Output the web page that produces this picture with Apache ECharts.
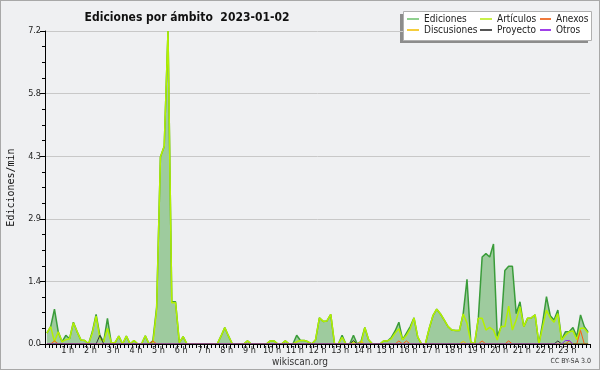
<!DOCTYPE html>
<html><head><meta charset="utf-8">
<script src="https://cdn.jsdelivr.net/npm/echarts@6/dist/echarts.min.js"></script>
<style>
html,body{margin:0;padding:0;background:#eff0f2;}
#c{width:600px;height:370px;box-sizing:border-box;border:1px solid #a8a8a8;background:#eff0f2;}
</style></head>
<body><div id="c"></div>
<script>
const title = 'Ediciones por ámbito  2023-01-02';
const seriesNames = ['Ediciones','Artículos','Anexos','Discusiones','Proyecto','Otros'];
const hourLabels = ['1 h','2 h','3 h','4 h','5 h','6 h','7 h','8 h','9 h','10 h','11 h','12 h','13 h','14 h','15 h','16 h','17 h','18 h','19 h','20 h','21 h','22 h','23 h'];
const yTicks = [0, 1.44, 2.88, 4.32, 5.76, 7.2];
// one value per 10-minute slot (144 slots), edits per minute
const ediciones = [
0.25,0.4,0.8,0.28,0.05,0.2,0.12,0.5,0.28,0.09,0.08,0,
0.28,0.68,0.2,0.05,0.59,0.03,0.03,0.18,0,0.18,0,0.08,
0,0,0.19,0,0.07,0.85,4.3,4.55,7.2,0.97,0.97,0.03,
0.17,0,0,0,0,0,0,0,0,0,0.18,0.38,
0.18,0,0,0,0,0.07,0,0,0,0,0,0.07,
0.07,0,0,0.07,0,0,0.2,0.08,0.08,0.05,0,0.1,
0.6,0.52,0.53,0.68,0,0,0.2,0,0,0.2,0,0.06,
0.38,0.1,0,0,0,0.07,0.07,0.15,0.3,0.5,0.1,0.25,
0.4,0.6,0.15,0,0,0.35,0.65,0.8,0.69,0.55,0.4,0.32,
0.31,0.31,0.7,1.49,0.05,0,0.6,2.0,2.08,2.0,2.3,0.18,
0.4,1.69,1.79,1.79,0.7,0.97,0.4,0.59,0.6,0.67,0,0.5,
1.09,0.65,0.55,0.78,0.1,0.28,0.28,0.38,0.17,0.67,0.4,0.28
];
const articulos = [
0.25,0.4,0.05,0.28,0.05,0.1,0.12,0.49,0.28,0.09,0.08,0,
0.25,0.64,0.13,0.05,0.36,0.03,0.03,0.18,0,0.18,0,0.08,
0,0,0.19,0,0,0.8,4.3,4.55,7.2,0.95,0.95,0.03,
0.17,0,0,0,0,0,0,0,0,0,0.18,0.38,
0.18,0,0,0,0,0.07,0,0,0,0,0,0.07,
0.07,0,0,0.07,0,0,0.05,0.08,0.08,0.05,0,0.1,
0.6,0.52,0.53,0.68,0,0,0.15,0,0,0.05,0,0,
0.38,0.1,0,0,0,0.07,0.07,0.12,0.25,0.35,0.1,0.2,
0.35,0.6,0.15,0,0,0.35,0.65,0.8,0.69,0.55,0.4,0.32,
0.31,0.31,0.69,0.48,0.05,0,0.59,0.59,0.32,0.38,0.32,0.09,
0.4,0.4,0.87,0.32,0.55,0.86,0.4,0.59,0.6,0.67,0,0.4,
0.78,0.6,0.5,0.7,0.09,0.2,0.28,0.3,0.1,0.36,0.36,0.25
];
const anexos = [
0,0,0.07,0,0,0,0,0,0,0,0,0,
0,0,0,0,0,0,0,0,0,0,0,0,
0,0,0,0,0.07,0,0,0,0,0,0,0,
0,0,0,0,0,0,0,0,0,0,0,0,
0,0,0,0,0,0,0,0,0,0,0,0,
0,0,0,0,0,0,0,0,0,0,0,0,
0,0,0,0,0,0,0,0,0,0,0,0,
0,0,0,0,0,0,0,0,0,0.07,0,0.07,
0,0,0,0,0,0,0,0,0,0,0,0,
0,0,0,0,0,0,0,0.07,0,0,0,0,
0,0,0.07,0,0,0,0,0,0,0,0,0,
0,0,0,0,0,0,0.07,0,0,0.31,0,0
];
const discusiones = [
0,0,0,0,0,0,0,0,0,0,0,0,
0,0,0,0,0,0,0,0,0,0,0,0,
0,0,0,0,0,0,0,0,0,0,0,0,
0,0,0,0,0,0,0,0,0,0,0,0,
0,0,0,0,0,0,0,0,0,0,0,0,
0,0,0,0,0,0,0,0,0,0,0,0,
0,0,0,0,0,0,0,0,0,0,0,0.06,
0,0,0,0,0,0,0,0,0,0,0,0,
0,0,0,0,0,0,0,0,0,0,0,0,
0,0,0.06,0,0,0,0,0,0,0,0,0,
0,0,0,0,0,0,0,0,0,0,0,0,
0,0,0,0,0,0,0,0,0,0,0,0
];
const proyecto = [
0,0,0,0,0,0,0,0,0,0,0,0,
0,0,0.2,0,0,0,0,0,0,0,0,0,
0,0,0,0,0,0,0,0,0,0,0,0,
0,0,0,0,0,0,0,0,0,0,0,0,
0,0,0,0,0,0,0,0,0,0,0,0,
0,0,0,0,0,0,0,0,0,0,0,0,
0,0,0,0,0,0,0,0,0,0.08,0,0,
0,0,0,0,0,0,0,0,0,0,0,0,
0,0,0,0,0,0,0,0,0,0,0,0,
0,0,0,0,0,0,0,0,0,0,0,0,
0,0,0,0,0,0,0,0,0,0,0,0,
0,0,0,0.07,0,0,0,0,0,0,0,0
];
const otros = [
0,0,0,0,0,0,0,0,0,0,0,0,
0,0,0,0,0,0,0,0,0,0,0,0,
0,0,0,0,0,0,0,0,0,0,0,0,
0,0,0,0,0,0,0,0,0,0,0,0,
0,0,0,0,0,0,0,0,0,0,0,0,
0,0,0,0,0,0,0,0,0,0,0,0,
0,0,0,0,0,0,0,0,0,0,0,0,
0,0,0,0,0,0,0,0,0,0,0,0,
0,0,0,0,0,0,0,0,0,0,0,0,
0,0,0,0,0,0,0,0,0,0,0,0,
0,0,0,0,0,0,0,0,0,0,0,0,
0,0,0,0,0,0.08,0.08,0
];

const SLOT = 10;
const toXY = arr => arr.map((v,i) => [i*SLOT + SLOT/2, v]);
const FC = "'DejaVu Sans Condensed','DejaVu Sans',sans-serif";
const chart = echarts.init(document.getElementById('c'));

function mk(name, data, color, width, z, area) {
  const s = {
    name, type:'line', data: toXY(data), symbol:'none', z,
    lineStyle:{color, width}, itemStyle:{color},
    emphasis:{disabled:true}, animation:false
  };
  if (area) s.areaStyle = {color: area, opacity: 1};
  return s;
}

const legendBase = {
  orient:'vertical', itemHeight:2, itemGap:1, icon:'rect',
  textStyle:{fontFamily:FC, fontSize:10, color:'#222', lineHeight:10},
  selectedMode:false, padding:0
};

chart.setOption({
  backgroundColor:'#eff0f2',
  animation:false,
  title:{text:title, left:181, top:6, textAlign:'center',
    textStyle:{fontFamily:FC, fontSize:12, fontWeight:'bold', color:'#111'}},
  graphic:[
    {type:'rect', left:399, top:13, shape:{width:188, height:29}, style:{fill:'#8c8c8c'}, z:0},
    {type:'rect', left:402, top:10, shape:{width:188, height:29}, style:{fill:'#ffffff', stroke:'#b0b0b0', lineWidth:1}, z:1},
    {type:'text', left:'center', top:356, style:{text:'wikiscan.org', font:"10px "+FC, fill:'#333'}},
    {type:'text', right:8, top:357, style:{text:'CC BY-SA 3.0', font:"7px "+FC, fill:'#333'}}
  ],
  legend:[
    Object.assign({}, legendBase, {left:406, top:13, itemWidth:12,
      data:[{name:'Ediciones', itemStyle:{color:'#8fd08f'}}, {name:'Discusiones', itemStyle:{color:'#f5cd3c'}}]}),
    Object.assign({}, legendBase, {left:479, top:13, itemWidth:12,
      data:[{name:'Artículos', itemStyle:{color:'#c8f04a'}}, {name:'Proyecto', itemStyle:{color:'#555555'}}]}),
    Object.assign({}, legendBase, {left:539, top:13, itemWidth:11,
      data:[{name:'Anexos', itemStyle:{color:'#f07a3c'}}, {name:'Otros', itemStyle:{color:'#a040e8'}}]})
  ],
  grid:{left:44, right:9, top:30, bottom:25, containLabel:false, outerBoundsMode:'none'},
  xAxis:{
    type:'value', min:0, max:1440, interval:60, z:10,
    axisLine:{lineStyle:{color:'#000', width:1}},
    axisTick:{show:true, length:4, lineStyle:{color:'#000'}},
    minorTick:{show:true, splitNumber:6, length:4, lineStyle:{color:'#000'}},
    splitLine:{show:false},
    axisLabel:{margin:2, fontFamily:FC, fontSize:9, color:'#222',
      formatter: v => hourLabels[v/60 - 1] || ''}
  },
  yAxis:{
    type:'value', min:0, max:7.2, interval:1.44,
    name:'Ediciones/min', nameLocation:'middle', nameGap:29, nameRotate:90,
    nameTextStyle:{fontFamily:"'DejaVu Sans Mono',monospace", fontSize:10, color:'#111'},
    axisLine:{show:true, lineStyle:{color:'#000', width:1}},
    axisTick:{show:true, length:5, lineStyle:{color:'#000'}},
    minorTick:{show:true, splitNumber:4, length:3, lineStyle:{color:'#000'}},
    splitLine:{show:true, lineStyle:{color:'#c8c8c8', width:1}},
    axisLabel:{margin:4, fontFamily:FC, fontSize:9, color:'#222',
      formatter: v => v.toFixed(1)}
  },
  series:[
    mk('Ediciones', ediciones, '#3a9c3a', 1.5, 2, '#9ecb9e'),
    mk('Artículos', articulos, '#b4f000', 1.5, 3),
    mk('Anexos', anexos, '#ff5a10', 1, 4),
    mk('Discusiones', discusiones, '#f0c000', 1, 4),
    mk('Proyecto', proyecto, '#333333', 1, 4),
    mk('Otros', otros, '#8a2be2', 1, 4)
  ]
});
</script></body></html>
